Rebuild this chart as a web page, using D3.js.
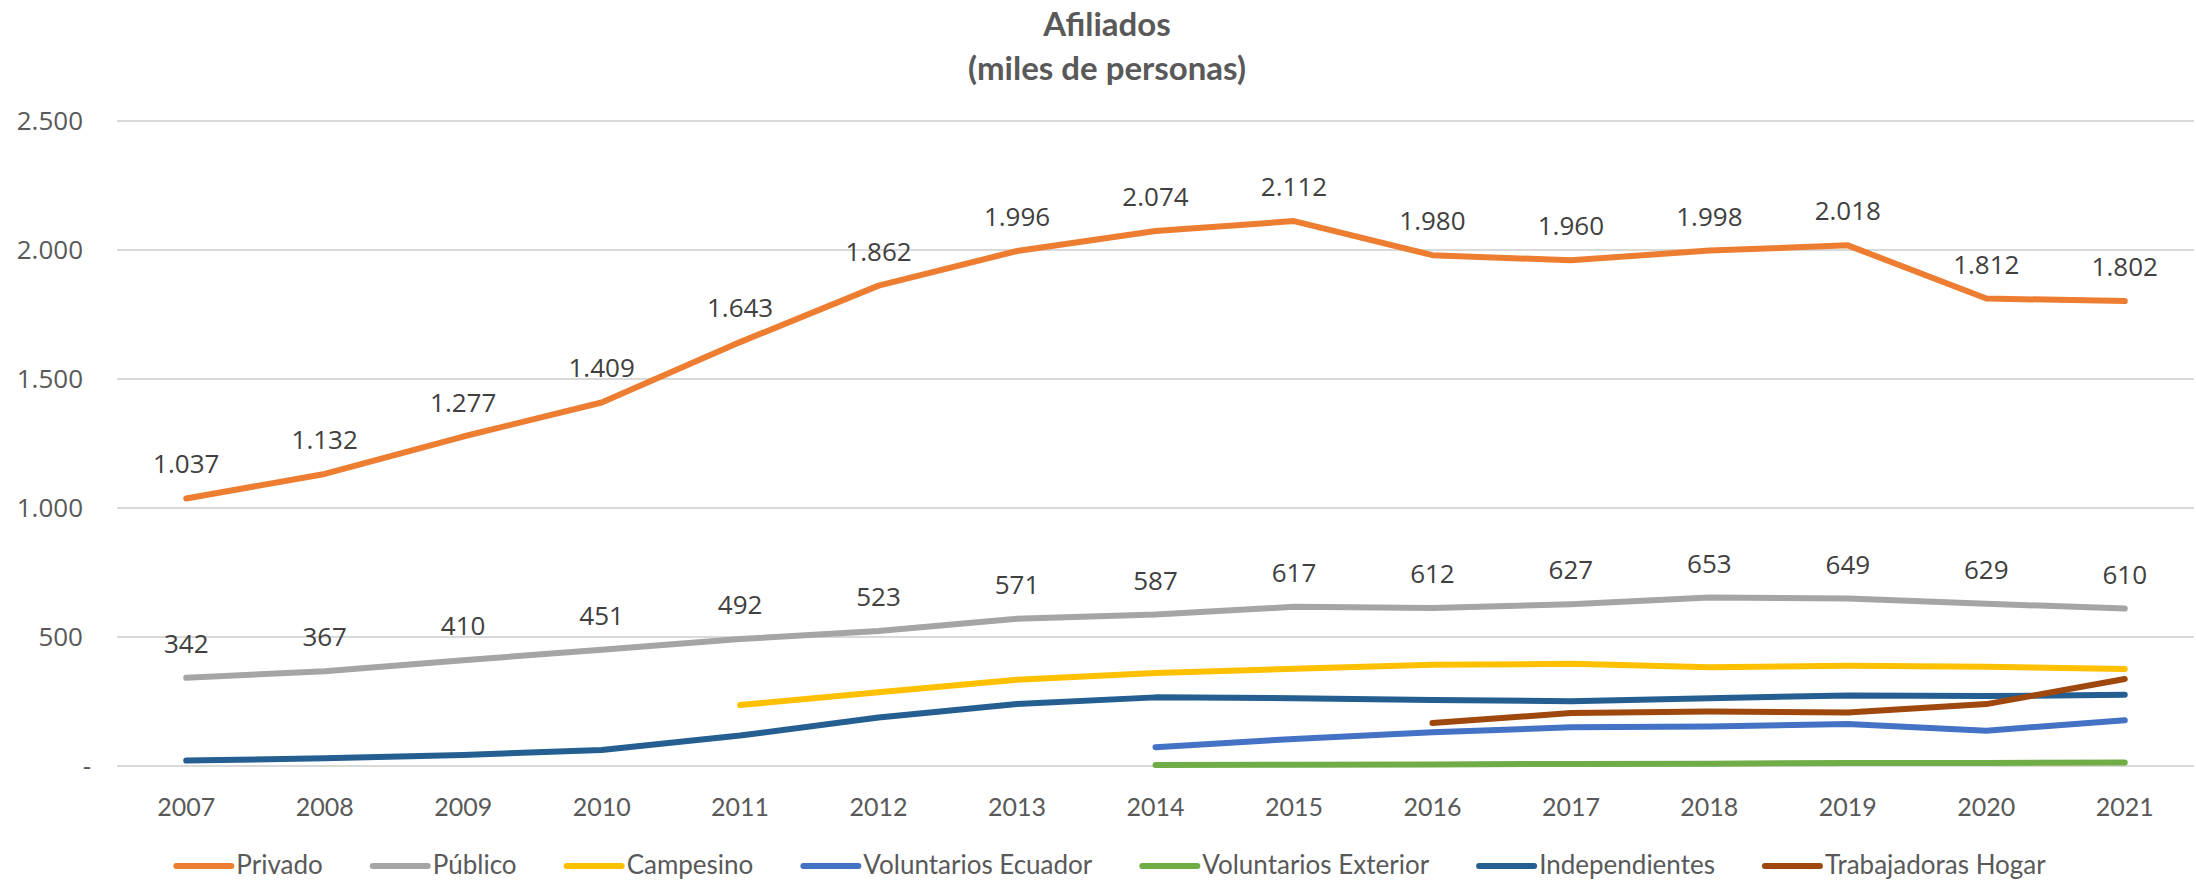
<!DOCTYPE html>
<html>
<head>
<meta charset="utf-8">
<script src="https://cdn.jsdelivr.net/npm/d3@7"></script>
<style>
  body { margin: 0; background: #fff; }
  svg { display: block; }
</style>
</head>
<body>
<svg id="chart" width="2196" height="880"></svg>
<script>
// years on the x axis
var years = ["2007","2008","2009","2010","2011","2012","2013","2014","2015","2016","2017","2018","2019","2020","2021"];

// series, miles de personas (null = no data that year)
var privado      = [1037,1132,1277,1409,1643,1862,1996,2074,2112,1980,1960,1998,2018,1812,1802];
var publico      = [342,367,410,451,492,523,571,587,617,612,627,653,649,629,610];
var campesino    = [null,null,null,null,236,286,334,360,377,392,396,383,389,385,376];
var volEcuador   = [null,null,null,null,null,null,null,73,105,131,150,153,163,137,177];
var volExterior  = [null,null,null,null,null,null,null,4,5,6,8,9,12,12,14];
var independ     = [21,30,43,62,118,188,240,266,263,256,251,263,273,271,276];
var trabHogar    = [null,null,null,null,null,null,null,null,null,167,205,211,207,240,337];

var yTicks = [0,500,1000,1500,2000,2500];

var series = [
  {name:"Privado", values:privado, color:"#ED7D31", labels:true},
  {name:"Público", values:publico, color:"#A5A5A5", labels:true},
  {name:"Campesino", values:campesino, color:"#FFC000"},
  {name:"Voluntarios Ecuador", values:volEcuador, color:"#4472C4"},
  {name:"Voluntarios Exterior", values:volExterior, color:"#70AD47"},
  {name:"Independientes", values:independ, color:"#255E91"},
  {name:"Trabajadoras Hogar", values:trabHogar, color:"#9E480E"}
];

var loc = d3.formatLocale({decimal:",", thousands:".", grouping:[3], currency:["",""]});
var fmt = loc.format(",d");

var svg = d3.select("#chart");
var plotL = 117, plotR = 2194, plotT = 121, plotB = 766;

var x = d3.scaleBand().domain(years).range([plotL, plotR]).padding(0);
var cx = function(yr){ return x(yr) + x.bandwidth()/2; };
var y = d3.scaleLinear().domain([0,2500]).range([plotB, plotT]);

// title
var title = svg.append("text")
  .attr("text-anchor","middle")
  .style("font-family","Lato, sans-serif")
  .style("font-weight","bold")
  .style("font-size","33px")
  .style("fill","#595959");
title.append("tspan").attr("x",1107).attr("y",36).text("Afiliados");
title.append("tspan").attr("x",1107).attr("y",80).text("(miles de personas)");

// gridlines
svg.append("g")
  .selectAll("line")
  .data(yTicks)
  .enter()
  .append("line")
  .attr("x1", plotL).attr("x2", plotR)
  .attr("y1", function(d){ return y(d); })
  .attr("y2", function(d){ return y(d); })
  .style("stroke","#D9D9D9")
  .style("stroke-width",2);

// y axis
var yAxis = svg.append("g")
  .attr("transform","translate(83,0)")
  .call(d3.axisLeft(y).tickValues(yTicks).tickSize(0).tickPadding(0)
    .tickFormat(function(d){ return d === 0 ? "-" : fmt(d); }));
yAxis.select(".domain").remove();
yAxis.selectAll("text")
  .style("font-family","'Open Sans', sans-serif")
  .style("font-size","26px")
  .style("fill","#595959")
  .attr("dx", function(d){ return d === 0 ? 8 : 0; });

// x axis
var xAxis = svg.append("g")
  .attr("transform","translate(0,"+plotB+")")
  .call(d3.axisBottom(x).tickSize(0).tickPadding(32));
xAxis.select(".domain").remove();
xAxis.selectAll("text")
  .style("font-family","Lato, sans-serif")
  .style("font-size","25px")
  .style("fill","#595959");

// lines
var line = d3.line()
  .defined(function(d){ return d.v != null; })
  .x(function(d){ return cx(d.year); })
  .y(function(d){ return y(d.v); });

var groups = svg.selectAll(".serie")
  .data(series)
  .enter()
  .append("g")
  .attr("class","serie");

groups.append("path")
  .attr("d", function(s){
    return line(s.values.map(function(v,i){ return {year:years[i], v:v}; }));
  })
  .style("fill","none")
  .style("stroke", function(s){ return s.color; })
  .style("stroke-width",6)
  .style("stroke-linecap","round")
  .style("stroke-linejoin","round");

// data labels
groups.filter(function(s){ return s.labels; })
  .selectAll("text")
  .data(function(s){ return s.values.map(function(v,i){ return {year:years[i], v:v}; }); })
  .enter()
  .append("text")
  .attr("x", function(d){ return cx(d.year); })
  .attr("y", function(d){ return y(d.v) - 35; })
  .attr("text-anchor","middle")
  .attr("dominant-baseline","central")
  .style("font-family","'Open Sans', sans-serif")
  .style("font-size","26px")
  .style("fill","#404040")
  .text(function(d){ return fmt(d.v); });

// legend
var legend = svg.append("g");
var items = legend.selectAll("g")
  .data(series)
  .enter()
  .append("g");
items.append("line")
  .attr("x1",0).attr("x2",55).attr("y1",866).attr("y2",866)
  .style("stroke", function(s){ return s.color; })
  .style("stroke-width",6)
  .style("stroke-linecap","round");
items.append("text")
  .attr("x",60).attr("y",874)
  .style("font-family","Lato, sans-serif")
  .style("font-size","26px")
  .style("fill","#595959")
  .text(function(s){ return s.name; });

var gap = 50, pos = 0;
items.each(function(){
  var g = d3.select(this);
  var w = 60 + g.select("text").node().getComputedTextLength();
  g.attr("transform","translate("+pos+",0)");
  pos += w + gap;
});
var totalW = pos - gap;
legend.attr("transform","translate("+(1111 - totalW/2)+",0)");
</script>
</body>
</html>
